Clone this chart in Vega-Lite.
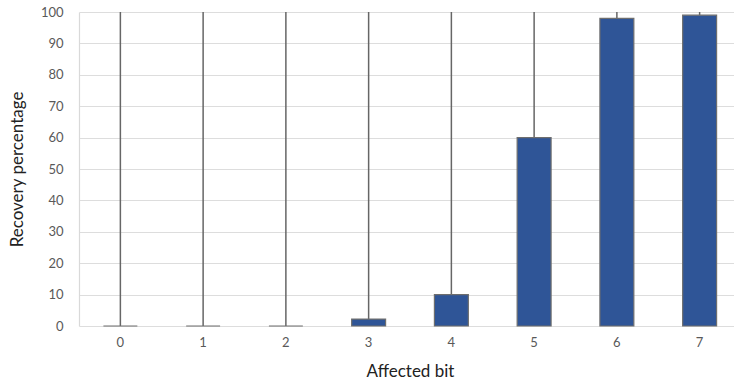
{
  "$schema": "https://vega.github.io/schema/vega-lite/v6.json",
  "autosize": {"type": "none"},
  "padding": {"left": 79, "top": 12, "right": 0, "bottom": 61},
  "width": 662,
  "height": 314,
  "background": "white",
  "config": {
    "view": {"stroke": null},
    "font": "Lato",
    "axis": {"labelFont": "Lato", "titleFont": "Lato"}
  },
  "data": {
    "values": [
      {"bit": "0", "value": 0, "hi": 100},
      {"bit": "1", "value": 0, "hi": 100},
      {"bit": "2", "value": 0, "hi": 100},
      {"bit": "3", "value": 2.2, "hi": 100},
      {"bit": "4", "value": 10, "hi": 100},
      {"bit": "5", "value": 60, "hi": 100},
      {"bit": "6", "value": 98, "hi": 100},
      {"bit": "7", "value": 99, "hi": 100}
    ]
  },
  "encoding": {
    "x": {
      "field": "bit", "type": "ordinal", "sort": null,
      "scale": {"paddingInner": 0.59, "paddingOuter": 0.295},
      "axis": {
        "title": "Affected bit", "labelAngle": 0, "ticks": false, "domain": false,
        "labelColor": "#595959", "labelFontSize": 13, "labelPadding": 10,
        "titleColor": "#222222", "titleFontSize": 17, "titleFontWeight": "normal", "titlePadding": 14
      }
    },
    "y": {
      "field": "value", "type": "quantitative",
      "scale": {"domain": [0, 100], "nice": false},
      "axis": {
        "title": "Recovery percentage", "values": [0,10,20,30,40,50,60,70,80,90,100],
        "ticks": false, "domain": true, "domainColor": "#d9d9d9", "domainWidth": 1.2,
        "grid": true, "gridColor": "#dddddd", "gridWidth": 1.2,
        "labelColor": "#595959", "labelFontSize": 13, "labelPadding": 16,
        "titleColor": "#222222", "titleFontSize": 17, "titleFontWeight": "normal", "titlePadding": 14
      }
    }
  },
  "layer": [
    {
      "mark": {"type": "rule", "color": "#666666", "strokeWidth": 1.5},
      "encoding": {
        "y2": {"field": "hi"}
      }
    },
    {
      "mark": {"type": "bar", "color": "#2F5597", "stroke": "#6e6e6e", "strokeWidth": 1.2},
      "encoding": {}
    }
  ]
}
